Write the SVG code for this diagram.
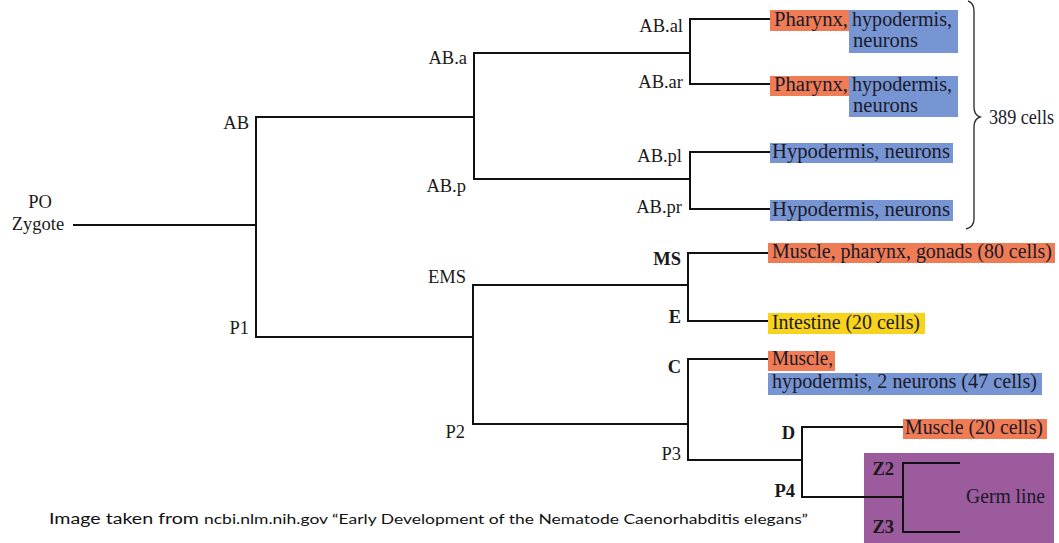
<svg xmlns="http://www.w3.org/2000/svg" width="1059" height="543" viewBox="0 0 1059 543">
<style>
  .lbl{font-family:"Liberation Serif","Times New Roman",serif;font-size:18.5px;fill:#1a1a1a;text-anchor:end}
  .b{font-weight:bold}
  .box{font-family:"Liberation Serif","Times New Roman",serif;font-size:20px;fill:#1a1a2a}
  .ln{fill:none;stroke:#111;stroke-width:2}
  .or{fill:#f07c55}
  .bl{fill:#7795d2}
  .ye{fill:#f8d31c}
  .pu{fill:#9b5b9d}
  .cap{font-family:Lato,"Open Sans",sans-serif;fill:#111}
</style>
<rect width="1059" height="543" fill="#fff"/>

<!-- colored fate boxes -->
<g id="fate-abal">
  <rect class="or" x="770" y="10" width="80" height="21"/>
  <rect class="bl" x="849" y="10" width="109" height="43"/>
  <text class="box" x="774" y="26" textLength="74" lengthAdjust="spacingAndGlyphs">Pharynx,</text>
  <text class="box" x="852" y="26" textLength="100" lengthAdjust="spacingAndGlyphs">hypodermis,</text>
  <text class="box" x="853" y="47" textLength="65" lengthAdjust="spacingAndGlyphs">neurons</text>
</g>
<g id="fate-abar">
  <rect class="or" x="770" y="76" width="80" height="20"/>
  <rect class="bl" x="849" y="76" width="109" height="41"/>
  <text class="box" x="774" y="91" textLength="74" lengthAdjust="spacingAndGlyphs">Pharynx,</text>
  <text class="box" x="852" y="91" textLength="100" lengthAdjust="spacingAndGlyphs">hypodermis,</text>
  <text class="box" x="853" y="112" textLength="65" lengthAdjust="spacingAndGlyphs">neurons</text>
</g>
<g id="fate-abpl">
  <rect class="bl" x="770" y="143" width="183" height="20"/>
  <text class="box" x="772" y="158" textLength="178" lengthAdjust="spacingAndGlyphs">Hypodermis, neurons</text>
</g>
<g id="fate-abpr">
  <rect class="bl" x="770" y="200" width="183" height="21"/>
  <text class="box" x="772" y="216" textLength="178" lengthAdjust="spacingAndGlyphs">Hypodermis, neurons</text>
</g>
<g id="fate-ms">
  <rect class="or" x="768" y="243" width="287" height="20"/>
  <text class="box" x="772" y="258" textLength="280" lengthAdjust="spacingAndGlyphs">Muscle, pharynx, gonads (80 cells)</text>
</g>
<g id="fate-e">
  <rect class="ye" x="768" y="313" width="157" height="21"/>
  <text class="box" x="772" y="329" textLength="148" lengthAdjust="spacingAndGlyphs">Intestine (20 cells)</text>
</g>
<g id="fate-c">
  <rect class="or" x="768" y="351" width="67" height="20"/>
  <rect class="bl" x="768" y="373" width="274" height="22"/>
  <text class="box" x="772" y="365" textLength="61" lengthAdjust="spacingAndGlyphs">Muscle,</text>
  <text class="box" x="772" y="388" textLength="265" lengthAdjust="spacingAndGlyphs">hypodermis, 2 neurons (47 cells)</text>
</g>
<g id="fate-d">
  <rect class="or" x="903" y="419" width="144" height="20"/>
  <text class="box" x="905" y="434" textLength="138" lengthAdjust="spacingAndGlyphs">Muscle (20 cells)</text>
</g>
<g id="germ-line">
  <rect class="pu" x="864" y="453" width="190" height="90"/>
  <text class="box" x="966" y="503" textLength="79" lengthAdjust="spacingAndGlyphs">Germ line</text>
</g>

<!-- connectors -->
<g id="connectors">
  <path class="ln" d="M73 225 H256"/>
  <path class="ln" d="M474 117 H256 V337 H473"/>
  <path class="ln" d="M690 53 H474 V179 H690"/>
  <path class="ln" d="M770 19 H690 V84 H770"/>
  <path class="ln" d="M770 152 H690 V209 H770"/>
  <path class="ln" d="M688 285 H473 V424 H688"/>
  <path class="ln" d="M768 253 H688 V321 H768"/>
  <path class="ln" d="M768 359 H688 V460 H802"/>
  <path class="ln" d="M903 427 H802 V497 H903"/>
  <path class="ln" d="M960 463 H903 V532 H960"/>
</g>

<!-- cell labels -->
<g id="node-p0">
  <text class="lbl" x="40" y="208" style="text-anchor:middle">PO</text>
  <text class="lbl" x="38" y="230" style="text-anchor:middle">Zygote</text>
</g>
<g id="node-ab"><text class="lbl" x="249" y="129">AB</text></g>
<g id="node-p1"><text class="lbl" x="249" y="334">P1</text></g>
<g id="node-aba"><text class="lbl" x="467" y="64">AB.a</text></g>
<g id="node-abp"><text class="lbl" x="466" y="192">AB.p</text></g>
<g id="node-ems"><text class="lbl" x="466" y="283">EMS</text></g>
<g id="node-p2"><text class="lbl" x="465" y="438">P2</text></g>
<g id="node-abal"><text class="lbl" x="683" y="32">AB.al</text></g>
<g id="node-abar"><text class="lbl" x="683" y="88">AB.ar</text></g>
<g id="node-abpl"><text class="lbl" x="682" y="162">AB.pl</text></g>
<g id="node-abpr"><text class="lbl" x="682" y="213">AB.pr</text></g>
<g id="node-ms"><text class="lbl b" x="681" y="265">MS</text></g>
<g id="node-e"><text class="lbl b" x="681" y="323">E</text></g>
<g id="node-c"><text class="lbl b" x="681" y="373">C</text></g>
<g id="node-p3"><text class="lbl" x="681" y="460">P3</text></g>
<g id="node-d"><text class="lbl b" x="795" y="439">D</text></g>
<g id="node-p4"><text class="lbl b" x="795" y="497">P4</text></g>
<g id="node-z2"><text class="lbl b" x="894" y="475">Z2</text></g>
<g id="node-z3"><text class="lbl b" x="894" y="533">Z3</text></g>

<!-- brace and count -->
<g id="brace-389">
  <path d="M968 1 Q974 3 974 11 V107 Q974 115 980 117 Q974 119 974 127 V219 Q974 227 966 229" fill="none" stroke="#333" stroke-width="1.4"/>
  <text class="box" x="989" y="124" textLength="65" lengthAdjust="spacingAndGlyphs">389 cells</text>
</g>

<!-- caption -->
<g id="caption">
  <text class="cap" x="49" y="524" font-size="15.5" textLength="150" lengthAdjust="spacingAndGlyphs">Image taken from</text>
  <text class="cap" x="204" y="524" font-size="13" textLength="604" lengthAdjust="spacingAndGlyphs">ncbi.nlm.nih.gov “Early Development of the Nematode Caenorhabditis elegans”</text>
</g>
</svg>
